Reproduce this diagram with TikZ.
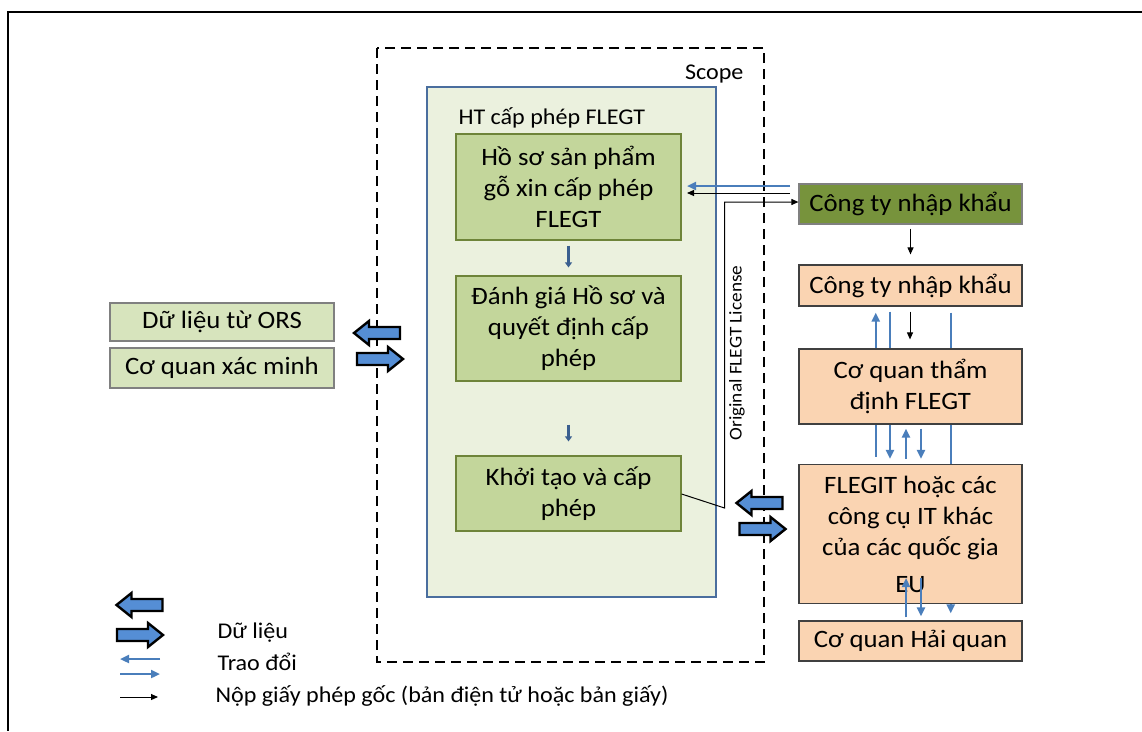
\documentclass[tikz,border=0pt]{standalone}
\usepackage{fontspec}
\setmainfont{Carlito}[FakeStretch=1.07]
\usetikzlibrary{arrows.meta,backgrounds}

\definecolor{htfill}{HTML}{EBF1DE}
\definecolor{htline}{HTML}{4A6E9E}
\definecolor{gfill}{HTML}{C3D69B}
\definecolor{gline}{HTML}{6E8439}
\definecolor{lgfill}{HTML}{D7E4BD}
\definecolor{dgfill}{HTML}{77933C}
\definecolor{pfill}{HTML}{FAD4B2}
\definecolor{blueln}{HTML}{4A7EBB}
\definecolor{bafill}{HTML}{558ED5}
\definecolor{dkblue}{HTML}{3A5F8F}

\tikzset{
  bigtext/.style={font=\fontsize{25}{31}\selectfont},
  smalltext/.style={font=\fontsize{22.5}{26}\selectfont},
  gbox/.style={draw=gline, line width=1.2, fill=gfill, minimum width=225, inner sep=0, align=center, bigtext},
  lbox/.style={draw=gray, line width=1.2, fill=lgfill, minimum width=224, inner sep=0, align=center, bigtext},
  pbox/.style={draw=black!75, line width=1.2, fill=pfill, minimum width=223, inner sep=0, align=center, bigtext},
  dbox/.style={draw=gray, line width=1.2, fill=dgfill, minimum width=223, inner sep=0, align=center, bigtext},
  exch/.style={draw=blueln, line width=2.2},
  exarr/.style={exch, -{Triangle[length=9,width=8]}},
  sub/.style={draw=black, line width=1, -{Triangle[length=7,width=6]}},
  flow/.style={draw=dkblue, line width=3, -{Triangle[length=5,width=7]}},
  barrow/.style={draw=black, line width=2.4, fill=bafill, line join=miter},
  bigarrow/.pic={\path[barrow] (-23,-6) -- (8,-6) -- (8,-12) -- (23,0) -- (8,12) -- (8,6) -- (-23,6) -- cycle;}
}

\begin{document}
\begin{tikzpicture}[x=1pt,y=-1pt]
\useasboundingbox (0,0) rectangle (1142,731);

% outer frame
\draw[line width=2.2] (1142,12) -- (8,12) -- (8,731);

% scope and licensing system
\draw[dashed, dash pattern=on 10 off 6, line width=2.2] (377,48) rectangle (764,662);
\node[smalltext, anchor=east] (scope) at (747,74) {Scope};
\draw[draw=htline, line width=2, fill=htfill] (427,87) rectangle (716,597);
\node[smalltext, anchor=west] (ht) at (455,118) {HT cấp phép FLEGT};

% licensing steps
\node[gbox, minimum height=106] (b1) at (568.5,187) {Hồ sơ sản phẩm\\gỗ xin cấp phép\\FLEGT};
\node[gbox, minimum height=105] (b2) at (568.5,328.5) {Đánh giá Hồ sơ và\\quyết định cấp\\phép};
\node[gbox, minimum height=75] (b3) at (568.5,493.5) {Khởi tạo và cấp\\phép};
\draw[flow, shorten <=5, shorten >=8] (b1) -- (b2);
\draw[flow, shorten <=43, shorten >=14] (b2) -- (b3);

% data sources
\node[lbox, minimum height=38] (ors) at (222,322) {Dữ liệu từ ORS};
\node[lbox, minimum height=40] (cqxm) at (222,368) {Cơ quan xác minh};

% partners
\node[dbox, minimum height=40] (ct1) at (910.5,204) {Công ty nhập khẩu};
\node[pbox, minimum height=41] (ct2) at (910.5,285.5) {Công ty nhập khẩu};
\node[pbox, minimum height=75] (td) at (910.5,386.5) {Cơ quan thẩm\\định FLEGT};
\node[pbox, minimum height=139] (fl) at (910.5,534) {FLEGIT hoặc các\\công cụ IT khác\\của các quốc gia\\[6pt]EU};
\node[pbox, minimum height=40] (hq) at (910.5,641) {Cơ quan Hải quan};

% block arrows (data)
\pic[xscale=-1] at (377,333) {bigarrow};
\pic at (380,359) {bigarrow};
\pic[xscale=-1] at (759.5,503) {bigarrow};
\pic at (762.5,529) {bigarrow};

% exchange columns
\coordinate (c1) at (875.7,0);
\coordinate (c2) at (890,0);
\coordinate (c3) at (910,0);
\coordinate (c4) at (906,0);
\coordinate (c5) at (921,0);
\coordinate (c6) at (950.7,0);
\begin{scope}[on background layer]
  \draw[exarr, shorten <=7, shorten >=6] (fl.north -| c1) -- (ct2.south -| c1);
  \draw[exarr, shorten <=5, shorten >=5] (ct2.south -| c2) -- (fl.north -| c2);
  \draw[exarr, shorten <=6, shorten >=7] (ct2.south -| c6) -- (hq.north -| c6);
\end{scope}
\draw[exarr, shorten <=5, shorten >=4] (fl.north -| c4) -- (td.south -| c4);
\draw[exarr, shorten <=4, shorten >=5] (td.south -| c5) -- (fl.north -| c5);
\coordinate (eu) at (0,578);
\draw[exarr, shorten <=3] (hq.north -| c4) -- (eu -| c4);
\draw[exarr, shorten >=4] (eu -| c5) -- (hq.north -| c5);

% importer to licensing system
\coordinate (r1) at (790,186);
\coordinate (r2) at (790,193);
\coordinate (t1) at (687,186);
\coordinate (t2) at (687,193);
\draw[exarr] (r1) -- (t1);
\draw[sub] (r2) -- (t2);
\draw[sub, shorten <=4, shorten >=10] (ct1) -- (ct2);
\draw[sub, shorten <=5, shorten >=9] (ct2.south -| c3) -- (td.north -| c3);

% original licence route
\coordinate (k1) at (724.5,508);
\coordinate (k2) at (724.5,202);
\draw[sub] (b3.east |- 0,494) -- (k1) -- (k2) -- (ct1.west |- k2);
\node[rotate=90, font=\fontsize{18}{21}\selectfont] (orig) at (737,353) {Original FLEGT License};

% legend
\pic[xscale=-1] at (139.5,605) {bigarrow};
\pic at (140,635) {bigarrow};
\coordinate (l1a) at (160,659);
\coordinate (l1b) at (120,659);
\coordinate (l2a) at (120,674);
\coordinate (l2b) at (160,674);
\coordinate (l3a) at (120,697);
\coordinate (l3b) at (158,697);
\draw[exarr] (l1a) -- (l1b);
\draw[exarr] (l2a) -- (l2b);
\draw[sub] (l3a) -- (l3b);
\node[smalltext, anchor=west] (lg1) at (214,633) {Dữ liệu};
\node[smalltext, anchor=west] (lg2) at (214,662) {Trao đổi};
\node[smalltext, anchor=west] (lg3) at (212,696) {Nộp giấy phép gốc (bản điện tử hoặc bản giấy)};
\end{tikzpicture}
\end{document}
